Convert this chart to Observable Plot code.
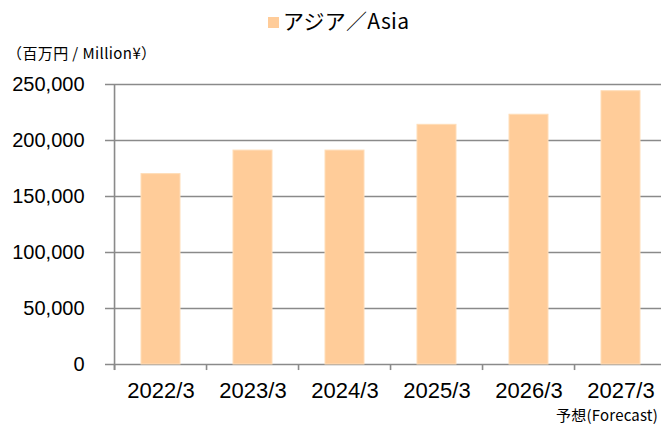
<!DOCTYPE html>
<html>
<head>
<meta charset="utf-8">
<script src="https://cdn.jsdelivr.net/npm/d3@7"></script>
<script src="https://cdn.jsdelivr.net/npm/@observablehq/plot@0.6"></script>
<style>
  html, body { margin: 0; padding: 0; background: #fff; }
  #wrap { width: 661px; height: 425px; overflow: hidden; font-family: "Noto Sans CJK JP", "Liberation Sans", sans-serif; color: #000; }
  #head { position: relative; height: 68px; }
  #title { position: absolute; left: 268px; top: 6px; font-size: 21px; line-height: 29px; white-space: nowrap; letter-spacing: 0.3px; }
  #title .sw { display: inline-block; width: 11px; height: 11px; background: #FFCC99; margin-right: 4px; vertical-align: 1px; }
  #unit { position: absolute; left: 7px; top: 43px; font-size: 15px; line-height: 20px; white-space: nowrap; letter-spacing: 0.4px; }
  #foot { position: relative; height: 20px; }
  #fc { position: absolute; right: 3px; top: 0px; font-size: 15px; line-height: 20px; white-space: nowrap; letter-spacing: 0.2px; }
  svg { display: block; }
</style>
</head>
<body>
<div id="wrap">
  <div id="head">
    <div id="title"><span class="sw"></span>アジア／Asia</div>
    <div id="unit">（百万円 / Million¥）</div>
  </div>
  <div id="chart"></div>
  <div id="foot"><div id="fc">予想(Forecast)</div></div>
</div>
<script>
const years = ["2022/3", "2023/3", "2024/3", "2025/3", "2026/3", "2027/3"];
const values = [170000, 191000, 191000, 214000, 223000, 244000];
const yTicks = [0, 50000, 100000, 150000, 200000, 250000];

const data = years.map((y, i) => ({year: y, value: values[i]}));

const W = 661, H = 337;
const x0 = 111.5, x1 = 669;
const step = (x1 - x0) / years.length;
const fmt = d3.format(",");

const chart = Plot.plot({
  width: W,
  height: H,
  marginTop: 16,
  marginBottom: 41,
  marginLeft: 111.5,
  marginRight: 0,
  style: {fontFamily: "'Liberation Sans', Arial, sans-serif", background: "#fff", overflow: "visible"},
  x: {domain: years, range: [x0, x1], paddingInner: 0.58, paddingOuter: 0.29, label: null},
  y: {domain: [0, 250000], label: null},
  marks: [
    Plot.ruleY(yTicks, {stroke: "#8a8a8a", strokeWidth: 1.6, insetLeft: -6.5}),
    Plot.barY(data, {x: "year", y: "value", fill: "#FFCC99", stroke: "#FFDDB8", strokeWidth: 1}),
    Plot.ruleX(years, {x: d => d, y1: 0, y2: -5400, dx: -step / 2, stroke: "#8a8a8a", strokeWidth: 1.6}),
    Plot.ruleX(years.slice(0, 1), {x: d => d, y1: 250000, y2: -5400, dx: -step / 2, stroke: "#8a8a8a", strokeWidth: 1.6}),
    Plot.axisY(yTicks, {tickSize: 0, tickPadding: 27.5, tickFormat: fmt, fontSize: 20, label: null, fill: "#000", style: {letterSpacing: "0.6px"}}),
    Plot.axisX({tickSize: 0, tickPadding: 17.5, fontSize: 22, label: null, fill: "#000", style: {letterSpacing: "1.6px"}})
  ]
});
document.getElementById("chart").appendChild(chart);
</script>
</body>
</html>
